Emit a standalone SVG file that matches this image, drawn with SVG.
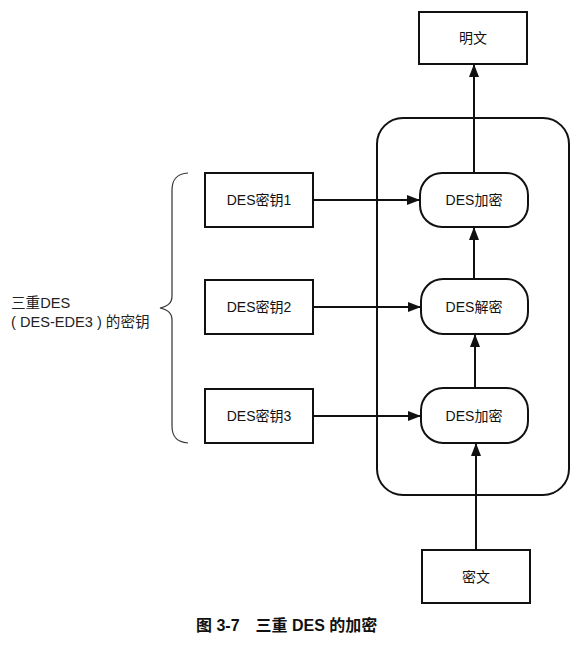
<svg xmlns="http://www.w3.org/2000/svg" width="579" height="646" viewBox="0 0 579 646">
<style>
.box{fill:#fff;stroke:#111;stroke-width:2}
.pill{fill:#fff;stroke:#111;stroke-width:2}
.t{font-family:"Liberation Sans","Noto Sans CJK SC",sans-serif;font-size:14px;fill:#111;text-anchor:middle;dominant-baseline:central}
.lbl{font-family:"Liberation Sans","Noto Sans CJK SC",sans-serif;font-size:14.6px;fill:#222}
.cap{font-family:"Liberation Sans","Noto Sans CJK SC",sans-serif;font-size:16px;font-weight:bold;fill:#111}
.ln{stroke:#111;stroke-width:2;fill:none}
</style>
<defs>
<marker id="ah" viewBox="0 0 13 10" refX="13" refY="5" markerWidth="13" markerHeight="10" markerUnits="userSpaceOnUse" orient="auto">
<path d="M0,0 L13,5 L0,10 Z" fill="#111"/>
</marker>
</defs>
<rect id="container" x="377" y="118" width="192" height="377" rx="26" ry="26" fill="none" stroke="#111" stroke-width="2"/>
<g id="connectors">
<line class="ln" x1="474" y1="173" x2="474" y2="64" marker-end="url(#ah)"/>
<line class="ln" x1="474" y1="279" x2="474" y2="227" marker-end="url(#ah)"/>
<line class="ln" x1="475" y1="388" x2="475" y2="334" marker-end="url(#ah)"/>
<line class="ln" x1="476" y1="550" x2="476" y2="443" marker-end="url(#ah)"/>
<line class="ln" x1="313" y1="200" x2="420" y2="200" marker-end="url(#ah)"/>
<line class="ln" x1="313" y1="307" x2="421" y2="307" marker-end="url(#ah)"/>
<line class="ln" x1="313" y1="416" x2="421" y2="416" marker-end="url(#ah)"/>
</g>
<g id="plaintext"><rect class="box" x="419" y="12" width="108" height="52"/><text class="t" x="473" y="38">明文</text></g>
<g id="enc1"><rect class="pill" x="420" y="173" width="108" height="54" rx="22" ry="22"/><text class="t" x="474" y="200">DES加密</text></g>
<g id="dec"><rect class="pill" x="421" y="279" width="107" height="55" rx="22" ry="22"/><text class="t" x="474" y="307">DES解密</text></g>
<g id="enc2"><rect class="pill" x="421" y="388" width="107" height="55" rx="22" ry="22"/><text class="t" x="474" y="416">DES加密</text></g>
<g id="ciphertext"><rect class="box" x="422" y="550" width="108" height="53"/><text class="t" x="476" y="577">密文</text></g>
<g id="key1"><rect class="box" x="205" y="173" width="108" height="54"/><text class="t" x="259" y="200">DES密钥1</text></g>
<g id="key2"><rect class="box" x="205" y="280" width="108" height="54"/><text class="t" x="259" y="307">DES密钥2</text></g>
<g id="key3"><rect class="box" x="205" y="389" width="108" height="54"/><text class="t" x="259" y="416">DES密钥3</text></g>
<g id="brace">
<path d="M188,173 C176,174 172,180 172,190 L172,296 C172,303 168,306 160,308 C168,310 172,313 172,320 L172,426 C172,436 176,442 188,443" fill="none" stroke="#333" stroke-width="1.2"/>
</g>
<g id="keylabel">
<text class="lbl" x="11" y="308">三重DES</text>
<text class="lbl" x="11" y="327">( DES-EDE3 ) 的密钥</text>
</g>
<text class="cap" x="196" y="631">图 3-7　三重 DES 的加密</text>
</svg>
